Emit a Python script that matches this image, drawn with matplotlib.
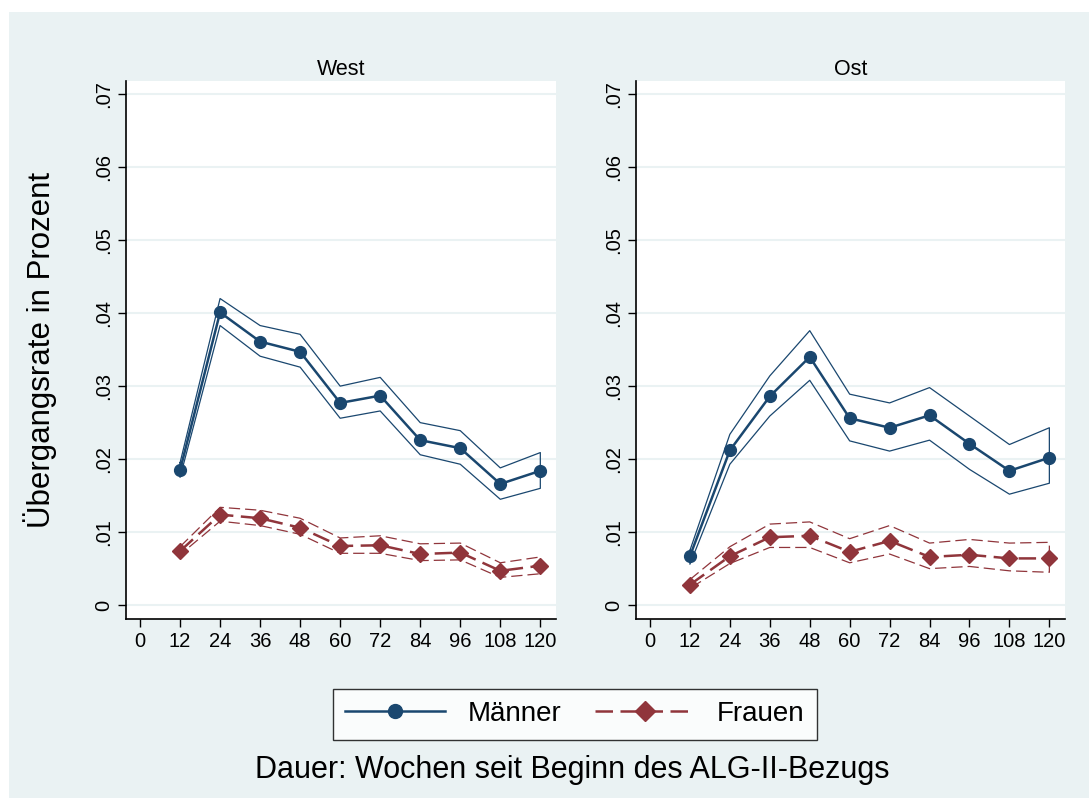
import matplotlib.pyplot as plt
from matplotlib.patches import Rectangle
from matplotlib.lines import Line2D

plt.rcParams['font.family'] = ['Liberation Sans', 'DejaVu Sans']

weeks = [12, 24, 36, 48, 60, 72, 84, 96, 108, 120]

# West
west_m = [0.0185, 0.0401, 0.0361, 0.0347, 0.0277, 0.0287, 0.0226, 0.0215, 0.0166, 0.0184]
west_m_hi = [0.0195, 0.0420, 0.0383, 0.0371, 0.0300, 0.0312, 0.0250, 0.0239, 0.0188, 0.0209]
west_m_lo = [0.0175, 0.0383, 0.0341, 0.0326, 0.0256, 0.0266, 0.0206, 0.0193, 0.0145, 0.0160]
west_f = [0.0074, 0.0124, 0.0119, 0.0106, 0.0081, 0.0082, 0.0070, 0.0072, 0.0047, 0.0054]
west_f_hi = [0.0080, 0.0134, 0.0130, 0.0119, 0.0092, 0.0095, 0.0084, 0.0085, 0.0058, 0.0066]
west_f_lo = [0.0069, 0.0115, 0.0109, 0.0097, 0.0071, 0.0071, 0.0061, 0.0062, 0.0038, 0.0043]

# Ost
ost_m = [0.0067, 0.0212, 0.0286, 0.0340, 0.0256, 0.0243, 0.0260, 0.0221, 0.0184, 0.0202]
ost_m_hi = [0.0075, 0.0234, 0.0314, 0.0376, 0.0289, 0.0277, 0.0298, 0.0259, 0.0220, 0.0243]
ost_m_lo = [0.0056, 0.0193, 0.0259, 0.0308, 0.0225, 0.0211, 0.0226, 0.0186, 0.0152, 0.0167]
ost_f = [0.0028, 0.0067, 0.0093, 0.0095, 0.0073, 0.0088, 0.0066, 0.0069, 0.0064, 0.0064]
ost_f_hi = [0.0035, 0.0080, 0.0111, 0.0114, 0.0091, 0.0109, 0.0085, 0.0090, 0.0085, 0.0086]
ost_f_lo = [0.0023, 0.0057, 0.0079, 0.0079, 0.0058, 0.0070, 0.0050, 0.0053, 0.0047, 0.0045]

xticks = [0, 12, 24, 36, 48, 60, 72, 84, 96, 108, 120]
yticks = [0, 0.01, 0.02, 0.03, 0.04, 0.05, 0.06, 0.07]
ylabels = ['0', '.01', '.02', '.03', '.04', '.05', '.06', '.07']

navy = '#1a476f'
maroon = '#90353b'
bg = '#eaf2f3'
W, H = 1089, 798

fig = plt.figure(figsize=(W / 100, H / 100), dpi=100)
fig.patches.append(Rectangle((9 / W, 0), 1 - 9 / W, (H - 12) / H,
                             transform=fig.transFigure, facecolor=bg,
                             edgecolor='none', zorder=-10))


def ci_outline(x, lo, hi):
    xs = list(x) + list(x[::-1]) + [x[0]]
    ys = list(hi) + list(lo[::-1]) + [hi[0]]
    return xs, ys


def panel(rect, title, m, m_hi, m_lo, f, f_hi, f_lo):
    ax = fig.add_axes(rect)
    ax.set_facecolor('white')
    ax.set_xlim(-4.2, 124.7)
    ax.set_ylim(-0.0019, 0.0718)
    for y in yticks:
        ax.axhline(y, color=bg, lw=1.5, zorder=0)
    xs, ys = ci_outline(weeks, m_lo, m_hi)
    ax.plot(xs, ys, color=navy, lw=0.9)
    xs, ys = ci_outline(weeks, f_lo, f_hi)
    ax.plot(xs, ys, color=maroon, lw=0.9, dashes=(9, 4))
    ax.plot(weeks, m, color=navy, lw=1.8, marker='o', ms=8.5)
    ax.plot(weeks, f, color=maroon, lw=1.8, dashes=(7, 3), marker='D', ms=8.5)
    ax.set_xticks(xticks)
    ax.set_yticks(yticks)
    ax.set_yticklabels(ylabels, rotation=90, va='center')
    ax.tick_params(labelsize=14.5, length=6, width=1, color='black', direction='out')
    ax.tick_params(axis='y', pad=3)
    for s in ['top', 'right']:
        ax.spines[s].set_visible(False)
    for s in ['left', 'bottom']:
        ax.spines[s].set_linewidth(1.2)
    ax.set_title(title, fontsize=15.5, pad=4)
    return ax


bottom = (H - 619) / H
height = 538 / H
panel([126 / W, bottom, 430 / W, height], 'West',
      west_m, west_m_hi, west_m_lo, west_f, west_f_hi, west_f_lo)
panel([636 / W, bottom, 429 / W, height], 'Ost',
      ost_m, ost_m_hi, ost_m_lo, ost_f, ost_f_hi, ost_f_lo)

fig.text(40 / W, 1 - 350 / H, 'Übergangsrate in Prozent', rotation=90,
         fontsize=22.5, ha='center', va='center')
fig.text(572 / W, 1 - 770 / H, 'Dauer: Wochen seit Beginn des ALG-II-Bezugs',
         fontsize=22, ha='center', va='center')

handles = [Line2D([], [], color=navy, lw=1.8, marker='o', ms=10),
           Line2D([], [], color=maroon, lw=1.8, dashes=(7, 3), marker='D', ms=10)]
leg = fig.legend(handles, ['Männer', 'Frauen'], loc='center',
                 bbox_to_anchor=(575 / W, 1 - 714 / H), ncol=2, fontsize=20,
                 frameon=True, fancybox=False, edgecolor='black',
                 handlelength=3.6, numpoints=1, columnspacing=1.2,
                 borderpad=0.45, handletextpad=0.8)
leg.get_frame().set_linewidth(1.0)

fig.savefig('out.png', dpi=100, facecolor='white')
